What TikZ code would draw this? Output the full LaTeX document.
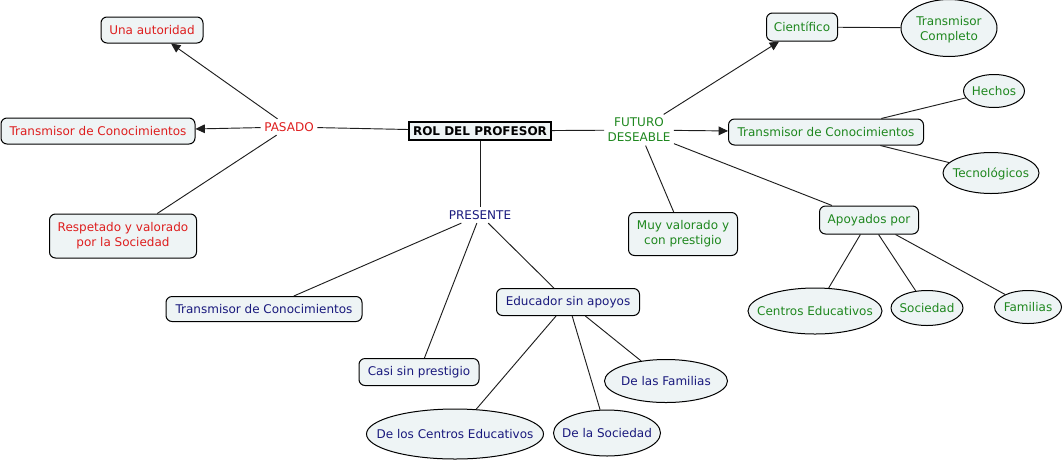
\documentclass[tikz,border=0pt]{standalone}
\usepackage{fontspec}
\setmainfont{DejaVu Sans}
\usetikzlibrary{shapes.geometric,arrows.meta}
\definecolor{cfill}{RGB}{238,244,245}
\definecolor{cred}{RGB}{222,30,30}
\definecolor{cgreen}{RGB}{30,135,30}
\definecolor{cnavy}{RGB}{25,25,125}
\definecolor{cline}{RGB}{30,30,30}
\newcommand\ezt[1]{\makebox[0pt][c]{\raisebox{-3.75pt}[0pt][0pt]{\begin{tabular}{@{}c@{}}#1\end{tabular}}}}
\begin{document}
\begin{tikzpicture}[x=0.75pt,y=-0.75pt,
  font=\fontsize{9}{11.2}\selectfont,
  sz/.style 2 args={minimum width=#1*0.75pt, minimum height=#2*0.75pt},
  cbox/.style={draw=black, line width=0.75pt, fill=cfill, rounded corners=4.5pt, inner sep=1pt, align=center},
  cell/.style={draw=black, line width=0.75pt, fill=cfill, ellipse, inner sep=0pt},
  lnk/.style={inner sep=2.5pt, align=center},
  conn/.style={draw=cline, line width=0.7pt},
  arr/.style={conn, -{Triangle[length=7pt,width=6.5pt]}},
]
\useasboundingbox (0,0) rectangle (1063,465);
% root
\node[draw=black, line width=1pt, fill=cfill, inner sep=1pt, sz={142}{18}, font=\fontsize{9}{11}\selectfont\bfseries] (rol) at (480,131) {ROL DEL PROFESOR};
% pasado
\node[lnk, text=cred] (pas) at (289,127) {PASADO};
\node[cbox, text=cred, sz={102}{26}] (una) at (152,30) {Una autoridad};
\node[cbox, text=cred, sz={194}{26}] (tp) at (98,131) {Transmisor de Conocimientos};
\node[cbox, text=cred, sz={147}{44}] (res) at (123,236) {Respetado y valorado\\por la Sociedad};
% futuro
\node[lnk, text=cgreen] (fut) at (639,130) {FUTURO\\DESEABLE};
\node[cbox, text=cgreen, sz={71}{28}] (cie) at (802,27) {Científico};
\node[cell, text=cgreen, sz={96}{57}] (tc) at (949,28) {\ezt{Transmisor\\Completo}};
\node[cbox, text=cgreen, sz={195}{26}] (tf) at (826,132) {Transmisor de Conocimientos};
\node[cell, text=cgreen, sz={61}{33}] (hec) at (994,91) {\ezt{Hechos}};
\node[cell, text=cgreen, sz={96}{41}] (tec) at (991,173) {\ezt{Tecnológicos}};
\node[cbox, text=cgreen, sz={109}{43}] (muy) at (683,234) {Muy valorado y\\con prestigio};
\node[cbox, text=cgreen, sz={99}{28}] (apo) at (869,220) {Apoyados por};
\node[cell, text=cgreen, sz={134}{46}] (cen) at (815,311) {\ezt{Centros Educativos}};
\node[cell, text=cgreen, sz={72}{35}] (soc) at (927,308) {\ezt{Sociedad}};
\node[cell, text=cgreen, sz={67}{33}] (fam) at (1028,307) {\ezt{Familias}};
% presente
\node[lnk, text=cnavy] (pre) at (480,215) {PRESENTE};
\node[cbox, text=cnavy, sz={196}{25}] (tpr) at (264,309) {Transmisor de Conocimientos};
\node[cbox, text=cnavy, sz={120}{27}] (cas) at (419,372) {Casi sin prestigio};
\node[cbox, text=cnavy, sz={143}{27}] (edu) at (568,302) {Educador sin apoyos};
\node[cell, text=cnavy, sz={177}{50}] (dce) at (455,434) {\ezt{De los Centros Educativos}};
\node[cell, text=cnavy, sz={107}{46}] (dso) at (607,433) {\ezt{De la Sociedad}};
\node[cell, text=cnavy, sz={123}{43}] (dfa) at (666,381) {\ezt{De las Familias}};
% connectors
\draw[conn] (rol) -- (pas);
\draw[arr] (pas) -- (una);
\draw[arr] (pas) -- (tp);
\draw[conn] (pas) -- (res);
\draw[conn] (rol) -- (fut);
\draw[arr] (fut) -- (cie);
\draw[arr] (fut) -- (tf);
\draw[conn] (fut) -- (muy);
\draw[conn] (fut) -- (apo);
\draw[conn] (cie) -- (tc);
\draw[conn] (tf) -- (hec);
\draw[conn] (tf) -- (tec);
\draw[conn] (apo) -- (cen);
\draw[conn] (apo) -- (soc);
\draw[conn] (apo) -- (fam);
\draw[conn] (rol) -- (pre);
\draw[conn] (pre) -- (tpr);
\draw[conn] (pre) -- (cas);
\draw[conn] (pre) -- (edu);
\draw[conn] (edu) -- (dce);
\draw[conn] (edu) -- (dso);
\draw[conn] (edu) -- (dfa);
\end{tikzpicture}
\end{document}
